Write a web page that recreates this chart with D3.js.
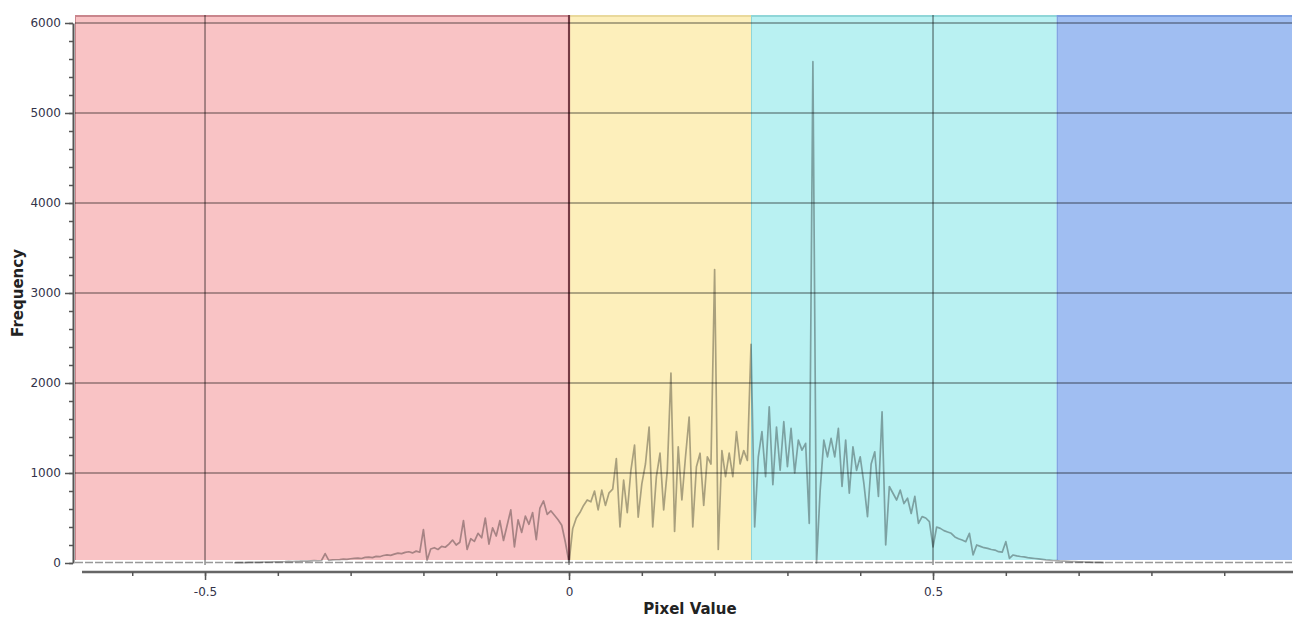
<!DOCTYPE html>
<html>
<head>
<meta charset="utf-8">
<script src="https://cdn.jsdelivr.net/npm/d3@7"></script>
<style>
  body { margin: 0; background: #fff; }
  .tick text { font-family: "DejaVu Sans", sans-serif; font-size: 12px; fill: #33334a; }
  .axisTitle { font-family: "DejaVu Sans", sans-serif; font-size: 15px; font-weight: bold; fill: #222; }
</style>
</head>
<body>
<div id="chart"></div>
<script>
// histogram bins: start value and width, counts
var binStart = -0.46;
var binStep = 0.005;
var counts = [
  3, 4, 4, 5, 6, 6, 7, 8, 9, 10, 11, 12, 13, 14, 15, 17, 16, 19, 20, 22, 21, 24, 26, 25, 28,
  105,
  30, 34, 36, 38, 42, 40, 47, 52, 55, 50, 62, 66, 60, 74, 70, 83, 90, 85, 98, 110, 104, 118, 125, 112, 132, 120,
  370, 30,
  155, 170, 150, 185, 175, 210, 255, 200, 230, 470, 150, 270, 240, 330, 280, 500, 210, 390, 300, 470,
  250, 420, 590, 180, 480, 340, 520, 430, 560, 260, 610, 690, 540, 580, 530, 480, 420, 230, 5,
  380, 500, 560, 640, 700, 680, 800, 590, 810, 640, 780, 820, 1160, 400, 920, 560, 1030, 1310, 510, 880,
  1100, 1510, 400, 960, 1220, 590, 1030, 2110, 350, 1290, 700, 1180, 1620, 400, 1070, 1220, 640, 1180, 1100, 3260,
  150, 1250, 960, 1220, 960, 1460, 1100, 1250, 1140, 2430, 400,
  1180, 1460, 960, 1735, 870, 1510, 1030, 1570, 1070, 1495, 1000, 1365, 1254, 1330, 440, 5570, 0, 810, 1365, 1180,
  1384, 1180, 1495, 850, 1365, 775, 1290, 1030, 1180, 885, 515, 1100, 1235, 740, 1680, 200, 850, 775, 700, 810,
  660, 720, 550, 740, 440, 515, 500, 460, 180, 400, 385, 360, 345, 330, 290, 270, 255, 237, 330, 90,
  200, 185, 170, 163, 150, 144, 126, 120, 237, 52, 89, 80, 72, 68, 60, 55, 50, 45, 40, 35,
  32, 28, 26, 22, 20, 18, 16, 15, 13, 12, 10, 9, 8, 7, 6, 4
];
var binX = counts.map(function(d, i) { return binStart + i * binStep; });

// coloured regions (from, to)
var regionStarts = [-0.68, 0, 0.25, 0.67];
var regionEnds   = [0, 0.25, 0.67, 1.0];
var regionColors = ["#f9c3c5", "#fdefbb", "#b9f1f2", "#a0bef2"];
var regionEdges  = ["#c9868d", "#e9d99c", "#8fd6d8", "#7c9fe0"];

var yTicks = [0, 1000, 2000, 3000, 4000, 5000, 6000];
var yMinorTicks = d3.range(0, 6001, 200);
var xTicks = [-0.5, 0, 0.5];
var xTickLabels = ["-0.5", "0", "0.5"];
var xMinorTicks = [-0.6, -0.5, -0.4, -0.3, -0.2, -0.1, 0, 0.1, 0.2, 0.3, 0.4, 0.5, 0.6, 0.7, 0.8, 0.9];
var gridX = [-0.5, 0, 0.5];
var gridY = [1000, 2000, 3000, 4000, 5000, 6000];

var svgWidth = 1293;
var svgHeight = 619;
var plot = { left: 75, right: 1292, top: 15, bottom: 560 };

var svg = d3.select("#chart")
  .append("svg")
  .attr("width", svgWidth)
  .attr("height", svgHeight);

var xScale = d3.scaleLinear()
  .domain([-0.6786, 0.9931])
  .range([plot.left, plot.right]);

var yScale = d3.scaleLinear()
  .domain([0, 6000])
  .range([563, 23]);

svg.append("clipPath").attr("id", "clip")
  .append("rect")
  .attr("x", plot.left).attr("y", plot.top)
  .attr("width", plot.right - plot.left)
  .attr("height", 565 - plot.top);

// regions
var regions = svg.append("g");
regionStarts.forEach(function(s, i) {
  var x0 = Math.max(xScale(s), plot.left);
  var x1 = Math.min(xScale(regionEnds[i]), plot.right);
  regions.append("rect")
    .attr("x", x0).attr("y", plot.top)
    .attr("width", x1 - x0).attr("height", plot.bottom - plot.top)
    .attr("fill", regionColors[i]);
  // top edge
  regions.append("line")
    .attr("x1", x0).attr("x2", x1)
    .attr("y1", plot.top + 1).attr("y2", plot.top + 1)
    .attr("stroke", regionEdges[i]).attr("stroke-width", 2);
  regions.append("line")
    .attr("x1", x0 + 0.5).attr("x2", x0 + 0.5)
    .attr("y1", plot.top).attr("y2", plot.bottom)
    .attr("stroke", regionEdges[i]).attr("stroke-width", 1);
});

// grid
var grid = svg.append("g").attr("clip-path", "url(#clip)");
grid.selectAll(".gx").data(gridX).enter().append("line")
  .attr("x1", function(d) { return xScale(d); })
  .attr("x2", function(d) { return xScale(d); })
  .attr("y1", plot.top).attr("y2", 565)
  .attr("stroke", "#000").attr("stroke-opacity", 0.42).attr("stroke-width", 1.6);
grid.selectAll(".gy").data(gridY).enter().append("line")
  .attr("x1", plot.left).attr("x2", plot.right)
  .attr("y1", function(d) { return yScale(d); })
  .attr("y2", function(d) { return yScale(d); })
  .attr("stroke", "#000").attr("stroke-opacity", 0.42).attr("stroke-width", 1.6);

// dark red edge of the first region at 0
regions.append("line")
  .attr("x1", xScale(0)).attr("x2", xScale(0))
  .attr("y1", plot.top).attr("y2", plot.bottom)
  .attr("stroke", "#b05a68").attr("stroke-width", 2.2);

// zero baseline of the histogram
grid.append("line")
  .attr("x1", plot.left).attr("x2", plot.right)
  .attr("y1", yScale(0) - 0.5).attr("y2", yScale(0) - 0.5)
  .attr("stroke", "#999").attr("stroke-width", 1.5)
  .attr("stroke-dasharray", "8,2");

// histogram line
var line = d3.line()
  .x(function(d, i) { return xScale(binX[i]); })
  .y(function(d) { return yScale(d); });

grid.append("path")
  .datum(counts)
  .attr("d", line)
  .attr("fill", "none")
  .attr("stroke", "#000")
  .attr("stroke-opacity", 0.33)
  .attr("stroke-width", 1.7)
  .attr("stroke-linejoin", "round");

// y axis
var leftAxis = d3.axisLeft(yScale).tickValues(yTicks).tickSize(8).tickSizeOuter(0).tickPadding(4)
  .tickFormat(d3.format("d"));
var yAxisG = svg.append("g")
  .attr("transform", "translate(73,0)")
  .call(leftAxis);
var yMinor = svg.append("g")
  .attr("transform", "translate(73,0)")
  .call(d3.axisLeft(yScale).tickValues(yMinorTicks).tickSize(4).tickFormat(""));
yMinor.select(".domain").remove();
yAxisG.select(".domain").attr("stroke", "#555").attr("stroke-width", 2);

// x axis
var bottomAxis = d3.axisBottom(xScale).tickValues(xTicks).tickSize(8).tickSizeOuter(0).tickPadding(7)
  .tickFormat(function(d, i) { return xTickLabels[i]; });
var xAxisG = svg.append("g")
  .attr("transform", "translate(0,572)")
  .call(bottomAxis);
var xMinor = svg.append("g")
  .attr("transform", "translate(0,572)")
  .call(d3.axisBottom(xScale).tickValues(xMinorTicks).tickSize(4).tickFormat(""));
xMinor.select(".domain").remove();
xAxisG.select(".domain").remove();
xAxisG.append("line")
  .attr("x1", plot.left + 7).attr("x2", svgWidth)
  .attr("y1", 0).attr("y2", 0)
  .attr("stroke", "#666").attr("stroke-width", 2.5);
svg.selectAll(".tick line").attr("stroke", "#555").attr("stroke-width", 1.5);

// axis titles
svg.append("text")
  .attr("class", "axisTitle")
  .attr("x", 690).attr("y", 614)
  .attr("text-anchor", "middle")
  .text("Pixel Value");

svg.append("text")
  .attr("class", "axisTitle")
  .attr("transform", "translate(23,293) rotate(-90)")
  .attr("text-anchor", "middle")
  .text("Frequency");
</script>
</body>
</html>
